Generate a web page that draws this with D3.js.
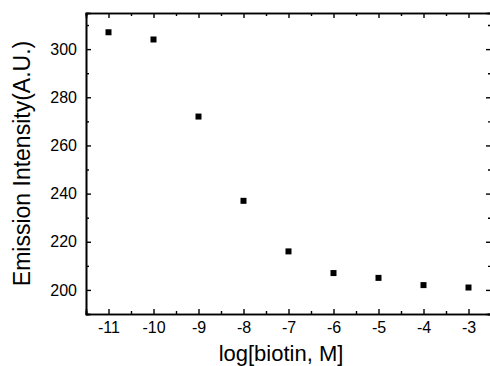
<!DOCTYPE html>
<html>
<head>
<meta charset="utf-8">
<script src="https://cdn.jsdelivr.net/npm/d3@7"></script>
<style>
html, body { margin: 0; padding: 0; background: #fff; }
svg { display: block; }
text { font-family: Arial, "Liberation Sans", sans-serif; fill: #000; }
</style>
</head>
<body>
<svg id="chart" width="490" height="366"></svg>
<script>
const xValues = [-11, -10, -9, -8, -7, -6, -5, -4, -3];
const intensity = [307, 304, 272, 237, 216, 207, 205, 202, 201];
const xTicks = [-11, -10, -9, -8, -7, -6, -5, -4, -3];
const xMinorTicks = [-11.5, -10.5, -9.5, -8.5, -7.5, -6.5, -5.5, -4.5, -3.5, -2.5];
const yTicks = [200, 220, 240, 260, 280, 300];
const yMinorTicks = [190, 210, 230, 250, 270, 290, 310];
const xTitle = "log[biotin, M]";
const yTitle = "Emission Intensity(A.U.)";

const W = 490, H = 366;
const m = { left: 86, top: 13, right: 491, bottom: 314 };
const svg = d3.select("#chart");

const x = d3.scaleLinear().domain([-11.5, -2.5]).range([m.left, m.right]);
const y = d3.scaleLinear().domain([190, 315]).range([m.bottom, m.top]);

const major = 5, minor = 3;
const fmt = d => d3.format("d")(d).replace("−", "-");

// bottom axis
svg.append("g").attr("transform", `translate(0,${m.bottom})`)
  .call(d3.axisBottom(x).tickValues(xTicks).tickSize(-major).tickPadding(8).tickFormat(fmt));
svg.append("g").attr("transform", `translate(0,${m.bottom})`)
  .call(d3.axisBottom(x).tickValues(xMinorTicks).tickSize(-minor).tickFormat(""));
// top axis
svg.append("g").attr("transform", `translate(0,${m.top})`)
  .call(d3.axisTop(x).tickValues(xTicks).tickSize(-major).tickFormat(""));
svg.append("g").attr("transform", `translate(0,${m.top})`)
  .call(d3.axisTop(x).tickValues(xMinorTicks).tickSize(-minor).tickFormat(""));
// left axis
svg.append("g").attr("transform", `translate(${m.left},0)`)
  .call(d3.axisLeft(y).tickValues(yTicks).tickSize(-major).tickPadding(9).tickFormat(fmt));
svg.append("g").attr("transform", `translate(${m.left},0)`)
  .call(d3.axisLeft(y).tickValues(yMinorTicks).tickSize(-minor).tickFormat(""));
// right axis
svg.append("g").attr("transform", `translate(${m.right},0)`)
  .call(d3.axisRight(y).tickValues(yTicks).tickSize(-major).tickFormat(""));
svg.append("g").attr("transform", `translate(${m.right},0)`)
  .call(d3.axisRight(y).tickValues(yMinorTicks).tickSize(-minor).tickFormat(""));

svg.selectAll(".domain").attr("stroke", "#000").attr("stroke-width", 1.6);
svg.selectAll(".tick line").attr("stroke", "#000").attr("stroke-width", 1.4);
svg.selectAll(".tick text").attr("font-size", 16).attr("font-family", "Arial, 'Liberation Sans', sans-serif").attr("fill", "#000");

// data points
const sz = 6;
svg.append("g").selectAll("rect").data(xValues).join("rect")
  .attr("x", (d) => x(d) - sz / 2)
  .attr("y", (d, i) => y(intensity[i]) - sz / 2)
  .attr("width", sz).attr("height", sz)
  .attr("fill", "#000");

// titles
svg.append("text")
  .attr("x", 281).attr("y", 361)
  .attr("text-anchor", "middle")
  .attr("font-size", 22)
  .text(xTitle);

svg.append("text")
  .attr("transform", `translate(30,${(m.top + m.bottom) / 2}) rotate(-90)`)
  .attr("text-anchor", "middle")
  .attr("font-size", 23)
  .text(yTitle);
</script>
</body>
</html>
